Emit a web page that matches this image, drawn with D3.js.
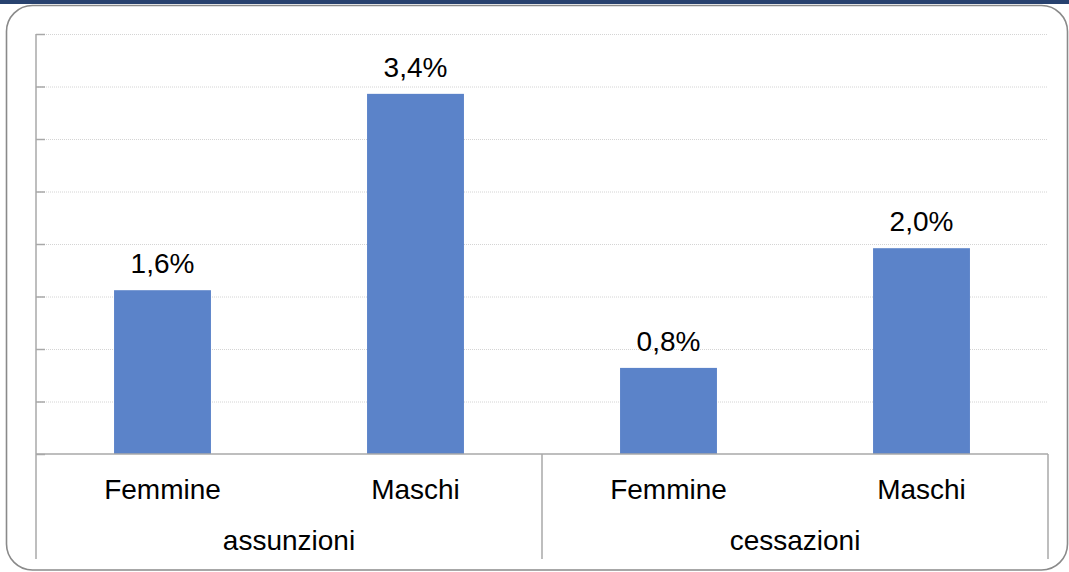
<!DOCTYPE html>
<html>
<head>
  <meta charset="utf-8">
  <title></title>
  <script src="https://cdn.jsdelivr.net/npm/d3@7"></script>
  <style type="text/css">
    html, body {
      margin: 0;
      padding: 0;
      background-color: white;
    }

    svg {
      display: block;
      font-family: "Liberation Sans", Arial, sans-serif;
    }

    .bar {
      fill: #5b83c9;
    }

    .value {
      font-size: 28px;
      fill: #000;
      text-anchor: middle;
    }

    .cat {
      font-size: 28px;
      fill: #000;
      text-anchor: middle;
    }

    .grid line {
      stroke: #d4d4d4;
      stroke-width: 1px;
      stroke-dasharray: 1 1;
    }

    .axis-line, .sep {
      stroke: #a8a8a8;
      stroke-width: 1.5px;
    }
  </style>
</head>
<body>
  <div class="chart"></div>

  <script type="text/javascript">

    var groups = ['assunzioni', 'cessazioni'];
    var genders = ['Femmine', 'Maschi'];
    // one value per (group, gender), in percent
    var values = [1.56, 3.43, 0.82, 1.96];
    var yTicks = [0, 0.5, 1, 1.5, 2, 2.5, 3, 3.5, 4];

    var data = [];
    groups.forEach(function (g, gi) {
      genders.forEach(function (s, si) {
        data.push({ key: g + '|' + s, group: g, gender: s, value: values[gi * genders.length + si] });
      });
    });

    var svgWidth = 1069;
    var svgHeight = 572;
    var margin = { top: 34, left: 36, right: 21, bottom: 118 };
    var width = svgWidth - margin.left - margin.right;
    var height = svgHeight - margin.top - margin.bottom;

    var it = d3.formatLocale({ decimal: ',', thousands: '.', grouping: [3], currency: ['€', ''] });
    var fmt = it.format('.1f');

    var svg = d3.select('.chart').append('svg')
      .attr('width', svgWidth).attr('height', svgHeight);

    // top band + rounded frame
    svg.append('rect')
      .attr('x', 0).attr('y', 0)
      .attr('width', svgWidth).attr('height', 4)
      .style('fill', '#28426f');

    svg.append('rect')
      .attr('x', 6.5).attr('y', 5.5)
      .attr('width', 1061).attr('height', 564.5)
      .attr('rx', 26).attr('ry', 26)
      .style('fill', 'none')
      .style('stroke', '#8a8a8a')
      .style('stroke-width', 1.6);

    var g = svg.append('g')
      .attr('transform', 'translate(' + margin.left + ',' + margin.top + ')');

    var x = d3.scaleBand()
      .domain(data.map(function (d) { return d.key; }))
      .range([0, width])
      .paddingInner(0.617)
      .paddingOuter(0.3085);

    var xGroup = d3.scaleBand()
      .domain(groups)
      .range([0, width])
      .padding(0);

    var y = d3.scaleLinear()
      .domain([0, 4])
      .range([height, 0]);

    // gridlines
    g.append('g')
      .attr('class', 'grid')
      .call(d3.axisLeft(y).tickValues(yTicks.slice(1)).tickSize(-width).tickFormat(''))
      .call(function (sel) { sel.select('.domain').remove(); });

    // value axis: line with small inward ticks
    g.append('g')
      .attr('class', 'yaxis')
      .call(d3.axisLeft(y).tickValues(yTicks).tickSize(-9).tickFormat('').tickSizeOuter(0))
      .call(function (sel) {
        sel.selectAll('line').style('stroke', '#a8a8a8').style('stroke-width', 1.5);
        sel.select('.domain').remove();
      });

    g.append('line')
      .attr('class', 'axis-line')
      .attr('x1', 0).attr('x2', 0)
      .attr('y1', 0).attr('y2', height);

    // bars
    g.append('g').selectAll('.bar')
      .data(data).enter().append('rect')
        .attr('class', 'bar')
        .attr('x', function (d) { return x(d.key); })
        .attr('y', function (d) { return y(d.value); })
        .attr('width', x.bandwidth())
        .attr('height', function (d) { return height - y(d.value); });

    g.append('g').selectAll('.value')
      .data(data).enter().append('text')
        .attr('class', 'value')
        .attr('x', function (d) { return x(d.key) + x.bandwidth() / 2; })
        .attr('y', function (d) { return y(d.value) - 17; })
        .text(function (d) { return fmt(d.value) + '%'; });

    // category axis
    g.append('line')
      .attr('class', 'axis-line')
      .attr('x1', 0).attr('x2', width)
      .attr('y1', height).attr('y2', height);

    var bounds = groups.map(function (d) { return xGroup(d); }).concat([width]);
    g.append('g').selectAll('.sep')
      .data(bounds).enter().append('line')
        .attr('class', 'sep')
        .attr('x1', function (d) { return d; })
        .attr('x2', function (d) { return d; })
        .attr('y1', height)
        .attr('y2', height + 105);

    g.append('g').selectAll('.cat')
      .data(data).enter().append('text')
        .attr('class', 'cat')
        .attr('x', function (d) { return x(d.key) + x.bandwidth() / 2; })
        .attr('y', height + 45)
        .text(function (d) { return d.gender; });

    g.append('g').selectAll('.grp')
      .data(groups).enter().append('text')
        .attr('class', 'cat')
        .attr('x', function (d) { return xGroup(d) + xGroup.bandwidth() / 2; })
        .attr('y', height + 96)
        .text(function (d) { return d; });

  </script>
</body>
</html>
